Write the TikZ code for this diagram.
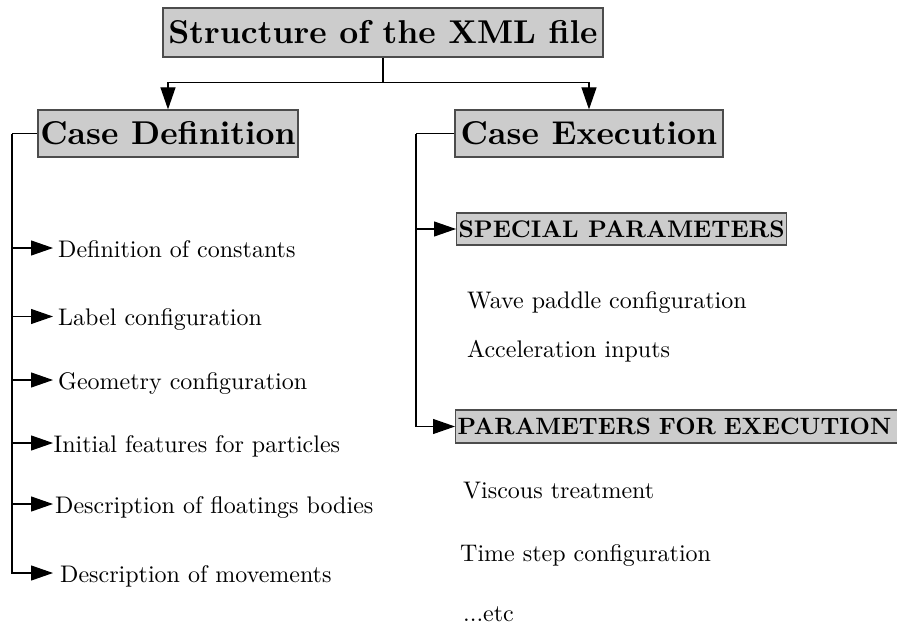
\documentclass[tikz,border=0pt]{standalone}
\usepackage{fontspec}
\setmainfont{lmroman10-regular.otf}[BoldFont=lmroman10-bold.otf]
\usetikzlibrary{arrows.meta}
\begin{document}
\begin{tikzpicture}[x=1pt,y=-1pt,
  hdr/.style={draw=black!70, line width=1.2pt, fill=black!20, inner sep=0pt,
    font=\fontsize{33}{40}\selectfont\bfseries},
  sub/.style={draw=black!70, line width=1.2pt, fill=black!20, inner sep=2pt,
    text height=17pt, text depth=1pt, font=\fontsize{24}{28}\selectfont\bfseries},
  item/.style={anchor=west, inner ysep=0pt, inner xsep=#1, text height=18pt, text depth=0pt,
    font=\fontsize{24}{28}\selectfont},
  item/.default=4pt,
  note/.style={anchor=base west, inner sep=0pt, font=\fontsize{24}{28}\selectfont},
  link/.style={draw=black, line width=1.1pt},
  arr/.style={link, -{Triangle[length=22pt,width=15pt]}}
]
\useasboundingbox (0,0) rectangle (897,626);

% headings
\node[hdr, minimum width=440, minimum height=49] (title) at (383,32.5) {Structure of the XML file};
\node[hdr, minimum width=260, minimum height=47] (cd) at (168,133.5) {Case Definition};
\node[hdr, minimum width=268, minimum height=47] (ce) at (589,133.5) {Case Execution};

% case definition entries (west edge is where the arrows end)
\node[item=5pt]   (d1) at (53,248) {Definition of constants};
\node[item=5pt]   (d2) at (53,316.5) {Label configuration};
\node[item=5pt]   (d3) at (53,380) {Geometry configuration};
\node[item=0.5pt] (d4) at (53,443) {Initial features for particles};
\node[item=2pt]   (d5) at (53,504) {Description of floatings bodies};
\node[item=7pt]   (d6) at (53,573) {Description of movements};

% case execution entries
\node[sub, anchor=west, minimum height=32] (sp) at (456,229) {SPECIAL PARAMETERS};
\node[note] (s1) at (467,308) {Wave paddle configuration};
\node[note] (s2) at (467,357) {Acceleration inputs};
\node[sub, anchor=west, minimum height=33, text width=450pt, align=left,
  font=\fontsize{23.6}{28}\selectfont\bfseries]
  (pe) at (455,426.5) {PARAMETERS FOR EXECUTION};
\node[note] (e1) at (463,498) {Viscous treatment};
\node[note] (e2) at (460,561.5) {Time step configuration};
\node[note] (e3) at (463,621.5) {...etc};

% top split
\draw[link] (title.south) -- ++(0,25) coordinate (tj);
\draw[arr] (tj) -| (cd.north);
\draw[arr] (tj) -| (ce.north);

% left spine
\coordinate (ls) at (12,133.5);
\draw[link] (cd.west) -- (ls);
\draw[arr] (ls) |- (d6.west);
\foreach \n in {d1,d2,d3,d4,d5}
  \draw[arr] (ls |- \n.west) -- (\n.west);

% right spine
\coordinate (rs) at (416,133.5);
\draw[link] (ce.west) -- (rs);
\draw[arr] (rs) |- (pe.west);
\draw[arr] (rs |- sp.west) -- (sp.west);
\end{tikzpicture}
\end{document}
